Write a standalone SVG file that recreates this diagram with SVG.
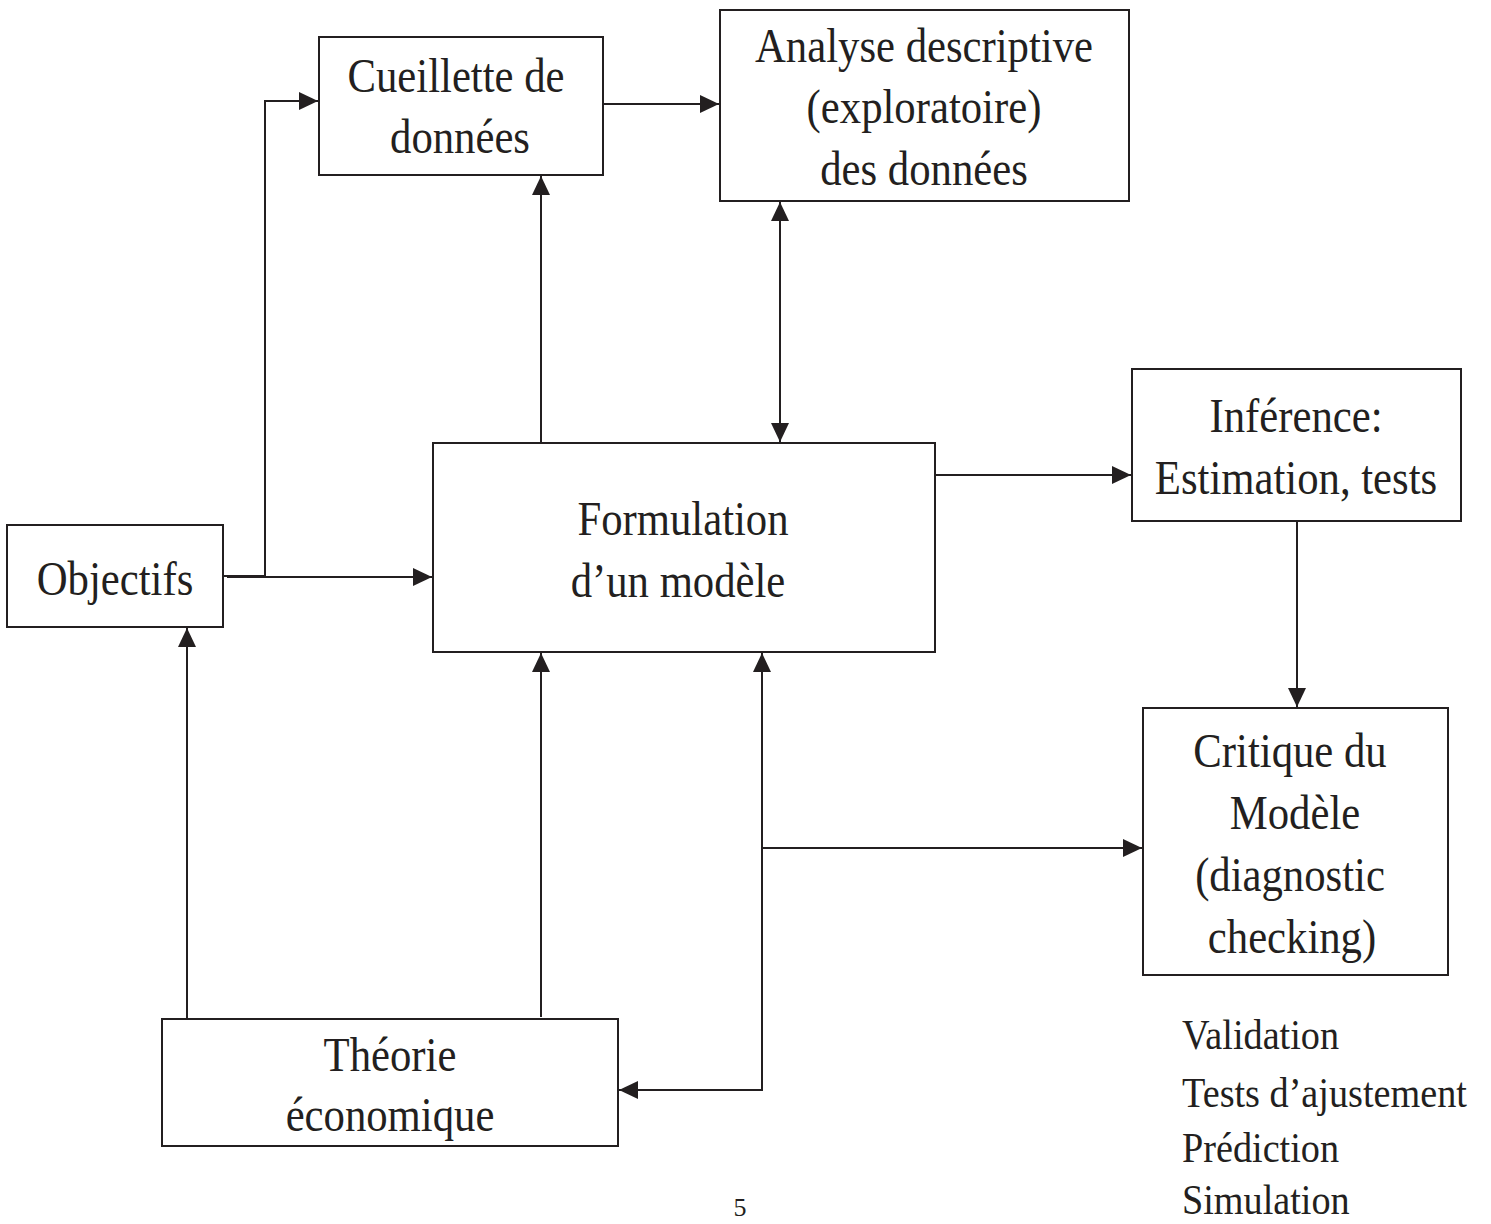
<svg xmlns="http://www.w3.org/2000/svg" width="1491" height="1224" viewBox="0 0 1491 1224">
<style>
.box{fill:#fff;stroke:#231f20;stroke-width:2}
.t{font-family:"Liberation Serif","Times New Roman",serif;font-size:48px;fill:#231f20;text-anchor:middle}
.l{font-family:"Liberation Serif","Times New Roman",serif;font-size:42px;fill:#231f20}
.c{fill:none;stroke:#231f20;stroke-width:2}
</style>
<defs>
<marker id="ah" markerUnits="userSpaceOnUse" markerWidth="19" markerHeight="18" refX="19" refY="9" orient="auto">
<path d="M0,0 L19,9 L0,18 z" fill="#231f20"/>
</marker>
</defs>
<rect width="1491" height="1224" fill="#fff"/>
<g id="connectors">
<path class="c" d="M223,576 H265 V101 H318" marker-end="url(#ah)"/>
<path class="c" d="M227,577 H432" marker-end="url(#ah)"/>
<path class="c" d="M603,104 H719" marker-end="url(#ah)"/>
<path class="c" d="M541,443 V176" marker-end="url(#ah)"/>
<path class="c" d="M780,300 V202" marker-end="url(#ah)"/>
<path class="c" d="M780,300 V442" marker-end="url(#ah)"/>
<path class="c" d="M935,475 H1131" marker-end="url(#ah)"/>
<path class="c" d="M1297,521 V707" marker-end="url(#ah)"/>
<path class="c" d="M187,1019 V628" marker-end="url(#ah)"/>
<path class="c" d="M541,1017 V653" marker-end="url(#ah)"/>
<path class="c" d="M762,848 V653" marker-end="url(#ah)"/>
<path class="c" d="M762,848 H1142" marker-end="url(#ah)"/>
<path class="c" d="M762,848 V1090 H619" marker-end="url(#ah)"/>
</g>
<g id="cueillette">
<rect class="box" x="319" y="37" width="284" height="138"/>
<text class="t" transform="translate(456,92) scale(0.89,1)">Cueillette de</text>
<text class="t" transform="translate(460,153) scale(0.89,1)">données</text>
</g>
<g id="analyse">
<rect class="box" x="720" y="10" width="409" height="191"/>
<text class="t" transform="translate(924,62) scale(0.89,1)">Analyse descriptive</text>
<text class="t" transform="translate(924,123) scale(0.89,1)">(exploratoire)</text>
<text class="t" transform="translate(924,185) scale(0.89,1)">des données</text>
</g>
<g id="formulation">
<rect class="box" x="433" y="443" width="502" height="209"/>
<text class="t" transform="translate(683,535) scale(0.89,1)">Formulation</text>
<text class="t" transform="translate(678,597) scale(0.89,1)">d’un modèle</text>
</g>
<g id="inference">
<rect class="box" x="1132" y="369" width="329" height="152"/>
<text class="t" transform="translate(1296,432) scale(0.89,1)">Inférence:</text>
<text class="t" transform="translate(1296,494) scale(0.89,1)">Estimation, tests</text>
</g>
<g id="objectifs">
<rect class="box" x="7" y="525" width="216" height="102"/>
<text class="t" transform="translate(115,595) scale(0.89,1)">Objectifs</text>
</g>
<g id="critique">
<rect class="box" x="1143" y="708" width="305" height="267"/>
<text class="t" transform="translate(1290,767) scale(0.89,1)">Critique du</text>
<text class="t" transform="translate(1295,829) scale(0.89,1)">Modèle</text>
<text class="t" transform="translate(1290,891) scale(0.89,1)">(diagnostic</text>
<text class="t" transform="translate(1292,953) scale(0.89,1)">checking)</text>
</g>
<g id="theorie">
<rect class="box" x="162" y="1019" width="456" height="127"/>
<text class="t" transform="translate(390,1071) scale(0.89,1)">Théorie</text>
<text class="t" transform="translate(390,1131) scale(0.89,1)">économique</text>
</g>
<g id="list">
<text class="l" transform="translate(1182,1049) scale(0.91,1)">Validation</text>
<text class="l" transform="translate(1182,1107) scale(0.91,1)">Tests d’ajustement</text>
<text class="l" transform="translate(1182,1162) scale(0.91,1)">Prédiction</text>
<text class="l" transform="translate(1182,1214) scale(0.91,1)">Simulation</text>
</g>
<text x="740" y="1216" font-family="Liberation Serif, serif" font-size="26" fill="#231f20" text-anchor="middle">5</text>
</svg>
